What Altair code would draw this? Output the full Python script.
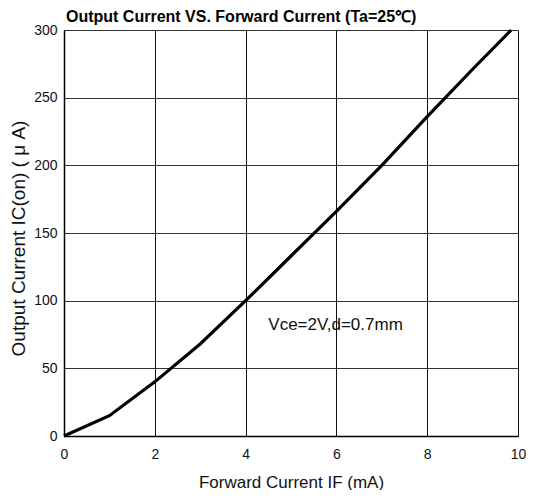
import altair as alt
import pandas as pd

# Data
forward_current = [0, 1, 2, 3, 4, 5, 6, 7, 8, 9, 9.85]
output_current = [0, 15, 40, 68, 100, 133, 166, 200, 236, 271, 300]

x_ticks = [0, 2, 4, 6, 8, 10]
y_ticks = [0, 50, 100, 150, 200, 250, 300]

note_text = ["Vce=2V,d=0.7mm"]
note_x = [4.5]
note_y = [82]

FONT = "Liberation Sans, Arial, sans-serif"

df = pd.DataFrame({"IF": forward_current, "IC": output_current})
notes = pd.DataFrame({"x": note_x, "y": note_y, "t": note_text})

xscale = alt.Scale(domain=[0, 10], nice=False, zero=False)
yscale = alt.Scale(domain=[0, 300], nice=False, zero=False)

line = alt.Chart(df).mark_line(color="black", strokeWidth=3.2).encode(
    x=alt.X(
        "IF:Q",
        scale=xscale,
        axis=alt.Axis(
            values=x_ticks,
            title="Forward Current IF (mA)",
            titleFont=FONT,
            titleFontSize=17,
            titleFontWeight="normal",
            titleColor="#111",
            titleBaseline="middle",
            titleY=46,
            labelFont=FONT,
            labelFontSize=14,
            labelColor="#111",
            labelPadding=11,
            ticks=False,
            domainColor="black",
            domainWidth=1.5,
            grid=True,
            gridColor="#111",
            gridWidth=1,
            labelFlush=False,
        ),
    ),
    y=alt.Y(
        "IC:Q",
        scale=yscale,
        axis=alt.Axis(
            values=y_ticks,
            title="Output Current IC(on) ( μ A)",
            titleFont=FONT,
            titleFontSize=19,
            titleFontWeight="normal",
            titleColor="#111",
            titleBaseline="middle",
            titleX=-46,
            titleY=208,
            labelFont=FONT,
            labelFontSize=14,
            labelColor="#111",
            labelPadding=7,
            ticks=False,
            domainColor="black",
            domainWidth=1.5,
            grid=True,
            gridColor="#333",
            gridWidth=1,
            labelFlush=False,
        ),
    ),
)

note = alt.Chart(notes).mark_text(
    align="left", baseline="middle", font=FONT, fontSize=17, color="#111"
).encode(
    x=alt.X("x:Q", scale=xscale),
    y=alt.Y("y:Q", scale=yscale),
    text="t:N",
)

chart = (
    alt.layer(line, note)
    .properties(
        width=454,
        height=406,
        autosize=alt.AutoSizeParams(type="none"),
        padding={"left": 56, "top": 22, "right": 8, "bottom": 54},
        title=alt.TitleParams(
            "Output Current VS. Forward Current (Ta=25℃)",
            anchor="start",
            frame="group",
            font=FONT,
            fontSize=16,
            fontWeight="bold",
            color="black",
            baseline="alphabetic",
            offset=0,
            dx=2,
            dy=15,
        ),
    )
    .configure_view(stroke="#666", strokeWidth=2)
    .configure(background="white")
)

chart.save("out.html", embed_options={"renderer": "svg", "actions": False})
